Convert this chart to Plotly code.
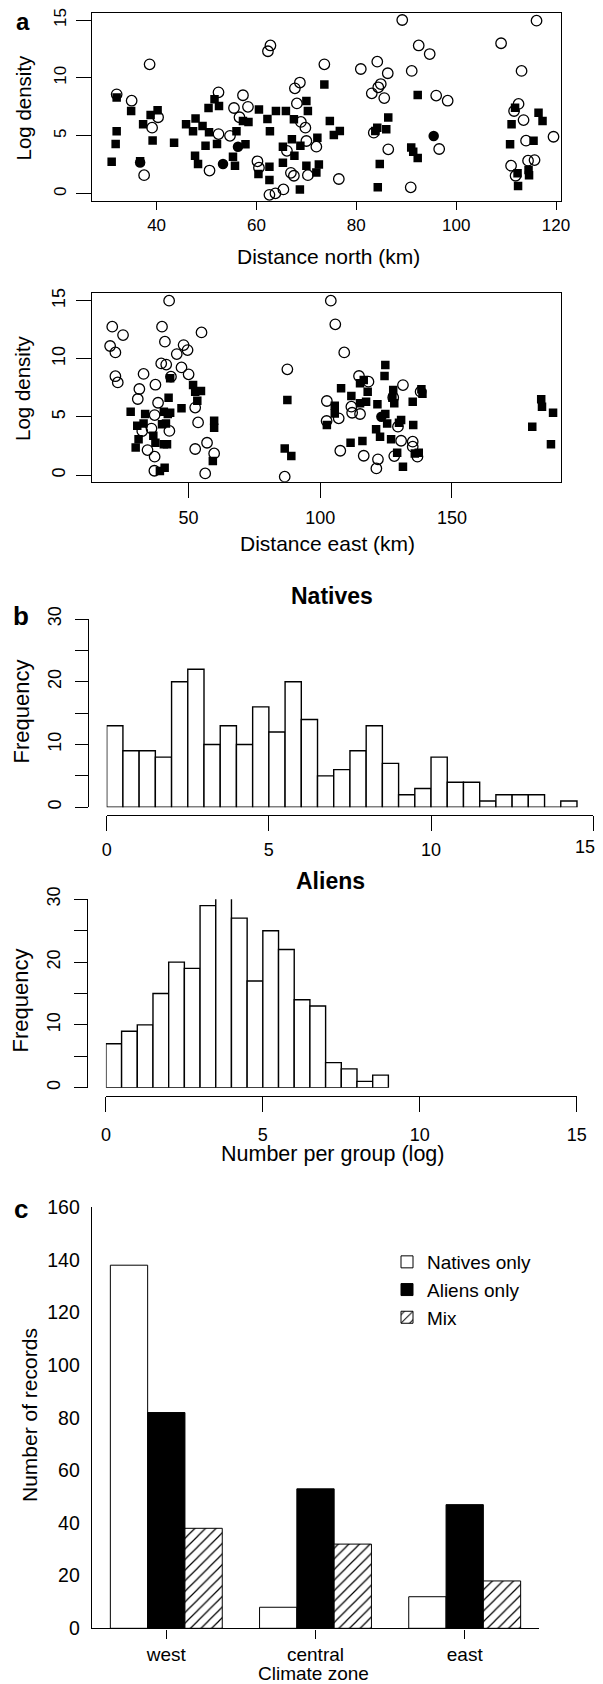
import plotly.graph_objects as go

PAGE_W, PAGE_H = 603, 1684
BODY = 8  # default page margin around the figure div
W, H = PAGE_W - BODY, PAGE_H - BODY
FONT = "Liberation Sans, Arial, Helvetica, sans-serif"

def px(p):
    return (p - BODY) / W

def py(p):
    return 1 - (p - BODY) / H

# ---------------- Panel a: log density vs distance north ----------------
north_native_x = [32.0, 35.0, 38.6, 39.1, 40.3, 37.5, 50.6, 52.4, 52.4, 54.7, 55.5, 56.6, 57.3, 58.3,
                  62.3, 62.8, 60.2, 60.5, 62.6, 63.8, 65.4, 66.1, 66.9, 67.5, 67.7, 68.7, 68.1, 68.9,
                  69.8, 70.0, 70.3, 72.0, 73.6, 76.5, 80.9, 83.1, 83.5, 84.2, 84.4, 84.9, 85.6, 86.3,
                  86.4, 89.2, 91.1, 90.9, 92.5, 94.7, 96.0, 96.6, 98.3, 109.0, 111.0, 111.6, 112.5,
                  113.5, 113.1, 114.0, 111.9, 114.4, 115.7, 116.1, 119.5]
north_native_y = [8.58, 8.03, 11.17, 5.7, 6.6, 1.6, 2.0, 8.75, 5.15, 5.0, 7.4, 6.6, 8.5, 7.5,
                  12.3, 12.8, 2.8, 2.25, -0.1, 0.03, 0.37, 3.7, 1.8, 1.55, 9.1, 9.6, 7.8, 6.2,
                  5.7, 4.55, 1.6, 4.06, 11.17, 1.27, 10.77, 8.67, 5.27, 11.4, 9.19, 9.47, 8.26, 10.4,
                  3.83, 15.0, 10.6, 0.55, 12.8, 12.06, 8.47, 3.86, 8.03, 12.99, 2.42, 7.14, 7.75,
                  6.36, 10.6, 4.58, 1.55, 2.85, 2.9, 14.94, 4.92]

north_alien_x = [31.0, 32.0, 32.0, 31.8, 34.9, 37.3, 36.7, 38.8, 40.2, 39.2, 43.5, 45.9, 47.8, 47.3,
                 49.2, 47.7, 48.3, 50.4, 50.5, 49.8, 51.6, 52.5, 52.1, 55.3, 55.7, 56.0, 57.8, 57.3,
                 58.4, 60.5, 60.4, 62.2, 62.7, 62.6, 62.6, 63.9, 65.9, 65.3, 65.3, 67.1, 67.5, 67.6,
                 68.8, 68.7, 70.0, 70.3, 70.0, 72.0, 72.2, 72.5, 73.6, 74.7, 75.5, 76.7, 84.2, 83.8,
                 86.0, 86.4, 84.7, 84.3, 92.3, 91.0, 91.4, 92.3, 110.8, 111.1, 111.8, 112.4, 112.3,
                 115.5, 116.5, 117.3, 114.5, 114.6]
north_alien_y = [2.76, 8.3, 5.4, 4.3, 7.14, 6.0, 2.8, 6.8, 7.2, 4.6, 4.4, 6.0, 6.5, 5.4,
                 5.85, 3.28, 2.56, 7.4, 5.3, 4.15, 8.15, 7.57, 4.29, 3.2, 2.42, 5.4, 4.26, 6.28,
                 6.2, 7.28, 1.7, 6.45, 5.4, 2.33, 1.18, 7.14, 7.14, 4.06, 2.68, 4.7, 6.42, 3.28,
                 4.15, 0.37, 8.0, 7.14, 2.42, 1.84, 4.84, 2.53, 9.44, 6.28, 5.07, 5.41, 5.7, 5.41,
                 5.56, 6.59, 2.56, 0.55, 8.52, 4.0, 3.63, 3.08, 4.26, 6.0, 7.43, 0.66, 1.76,
                 4.58, 7.0, 6.28, 2.04, 1.6]

north_mix_x = [36.7, 53.3, 56.3, 95.5]
north_mix_y = [2.7, 2.56, 4.06, 4.98]

# ---------------- Panel a: log density vs distance east ----------------
east_native_x = [21.0, 20.2, 22.2, 25.1, 22.2, 23.1, 42.6, 39.9, 41.0, 45.5, 48.1, 49.6, 39.6, 41.5,
                 47.3, 50.0, 32.9, 31.3, 30.7, 37.4, 38.4, 43.3, 54.9, 52.5, 53.6, 52.5, 57.0, 59.7,
                 56.3, 35.9, 34.4, 37.1, 37.0, 37.1, 42.7, 32.4, 87.5, 86.5, 104.0, 105.7, 109.1,
                 102.5, 102.4, 107.0, 111.8, 112.1, 115.1, 114.7, 118.3, 107.6, 116.5, 121.9, 121.3,
                 131.4, 127.7, 129.5, 130.7, 128.1, 135.1, 135.1, 136.9, 138.1]
east_native_y = [12.76, 11.1, 10.55, 12.04, 8.5, 7.97, 15.0, 12.76, 11.47, 10.4, 11.18, 10.75, 9.6, 9.5,
                 9.26, 8.66, 8.7, 7.4, 6.54, 7.77, 6.22, 8.46, 12.27, 5.8, 4.53, 2.24, 2.78, 1.86,
                 0.14, 4.0, 2.15, 1.58, 0.37, 5.16, 3.8, 3.78, 9.09, -0.14, 15.0, 12.96, 10.55,
                 6.37, 4.65, 4.88, 5.88, 5.36, 5.25, 8.52, 8.03, 2.09, 1.66, 1.35, 0.57,
                 7.74, 6.68, 4.16, 2.95, 1.63, 2.87, 2.44, 1.58, 7.17]

east_alien_x = [28.0, 33.5, 30.5, 32.9, 31.0, 29.9, 36.6, 37.4, 40.6, 41.8, 39.9, 40.6, 42.4, 43.0,
                42.1, 43.0, 41.4, 39.1, 40.9, 47.3, 51.7, 52.5, 54.7, 53.3, 59.7, 59.7, 59.2, 87.5,
                86.5, 89.0, 102.5, 105.5, 105.5, 107.9, 111.8, 111.5, 115.1, 115.1, 116.0, 117.4,
                118.0, 116.5, 124.7, 124.4, 121.7, 124.7, 125.4, 121.2, 122.7, 126.9, 127.4, 128.1,
                127.7, 129.9, 130.7, 129.2, 131.4, 135.3, 135.1, 135.9, 137.4, 138.4, 138.8, 180.5,
                183.9, 184.2, 188.4, 187.6]
east_alien_y = [5.45, 5.25, 4.24, 4.44, 3.07, 2.38, 3.38, 2.78, 2.64, 2.64, 4.36, 5.45, 6.65, 8.32,
                5.25, 5.36, 4.44, 0.34, 0.63, 5.74, 7.74, 7.17, 7.23, 6.4, 4.67, 4.07, 1.2, 6.45,
                2.29, 1.63, 4.3, 5.97, 5.3, 7.46, 6.8, 2.78, 7.89, 6.17, 2.92, 6.31,
                7.17, 8.17, 9.46, 8.52, 6.08, 5.25, 4.44, 3.93, 3.3, 3.07, 6.65, 6.17,
                7.31, 4.5, 4.73, 1.92, 0.72, 4.3, 6.31, 1.86, 1.92, 7.37, 7.0, 4.16,
                6.51, 5.88, 5.36, 2.64]

east_mix_x = [123.2]
east_mix_y = [5.02]

# ---------------- Panel b: histograms ----------------
natives_bin_left = [0.0, 0.5, 1.0, 1.5, 2.0, 2.5, 3.0, 3.5, 4.0, 4.5, 5.0, 5.5, 6.0, 6.5, 7.0,
                    7.5, 8.0, 8.5, 9.0, 9.5, 10.0, 10.5, 11.0, 11.5, 12.0, 12.5, 13.0, 13.5, 14.0]
natives_counts = [13, 9, 9, 8, 20, 22, 10, 13, 10, 16, 12, 20, 14, 5, 6,
                  9, 13, 7, 2, 3, 8, 4, 4, 1, 2, 2, 2, 0, 1]
aliens_bin_left = [0.0, 0.5, 1.0, 1.5, 2.0, 2.5, 3.0, 3.5, 4.0, 4.5, 5.0, 5.5, 6.0, 6.5,
                   7.0, 7.5, 8.0, 8.5]
aliens_counts = [7, 9, 10, 15, 20, 19, 29, 31, 27, 17, 25, 22, 14, 13, 4, 3, 1, 2]
bin_width = 0.5
hist_ticks = [0, 5, 10, 15]
natives_tick_text = ["0", "5", "10", ""]   # the last label (15) is placed as an annotation

# ---------------- Panel c: records per climate zone ----------------
zones = ["west", "central", "east"]
natives_only = [138, 8, 12]
aliens_only = [82, 53, 47]
mix_records = [38, 32, 18]

fig = go.Figure()

open_circle = dict(symbol="circle-open", size=10.5, color="black", line=dict(width=1.3, color="black"))
square = dict(symbol="square", size=8.5, color="black")
filled_circle = dict(symbol="circle", size=10.5, color="black")

fig.add_trace(go.Scatter(x=north_native_x, y=north_native_y, mode="markers", marker=open_circle,
                         xaxis="x", yaxis="y", showlegend=False))
fig.add_trace(go.Scatter(x=north_alien_x, y=north_alien_y, mode="markers", marker=square,
                         xaxis="x", yaxis="y", showlegend=False))
fig.add_trace(go.Scatter(x=north_mix_x, y=north_mix_y, mode="markers", marker=filled_circle,
                         xaxis="x", yaxis="y", showlegend=False))

fig.add_trace(go.Scatter(x=east_native_x, y=east_native_y, mode="markers", marker=open_circle,
                         xaxis="x2", yaxis="y2", showlegend=False))
fig.add_trace(go.Scatter(x=east_alien_x, y=east_alien_y, mode="markers", marker=square,
                         xaxis="x2", yaxis="y2", showlegend=False))
fig.add_trace(go.Scatter(x=east_mix_x, y=east_mix_y, mode="markers", marker=filled_circle,
                         xaxis="x2", yaxis="y2", showlegend=False))

hist_style = dict(color="white", line=dict(color="black", width=1.4))
fig.add_trace(go.Bar(x=natives_bin_left, y=natives_counts, width=bin_width, offset=0,
                     marker=hist_style, xaxis="x3", yaxis="y3", showlegend=False, cliponaxis=False))
fig.add_trace(go.Bar(x=aliens_bin_left, y=aliens_counts, width=bin_width, offset=0,
                     marker=hist_style, xaxis="x4", yaxis="y4", showlegend=False, cliponaxis=False))

fig.add_trace(go.Bar(x=zones, y=natives_only, name="Natives only", xaxis="x5", yaxis="y5",
                     marker=dict(color="white", line=dict(color="black", width=1))))
fig.add_trace(go.Bar(x=zones, y=aliens_only, name="Aliens only", xaxis="x5", yaxis="y5",
                     marker=dict(color="black", line=dict(color="black", width=1))))
fig.add_trace(go.Bar(x=zones, y=mix_records, name="Mix", xaxis="x5", yaxis="y5",
                     marker=dict(color="white", line=dict(color="black", width=1),
                                 pattern=dict(shape="/", fgcolor="black", bgcolor="white",
                                              size=7.5, solidity=0.16))))

def tf(size):
    return dict(family=FONT, size=size, color="black")

common = dict(showgrid=False, zeroline=False, linecolor="black", ticks="outside",
              tickcolor="black", showline=True, automargin=False, ticklabeloverflow="allow")

layout = dict(
    template="none",
    width=W, height=H, autosize=False,
    margin=dict(l=0, r=0, t=0, b=0, pad=0),
    paper_bgcolor="white", plot_bgcolor="white",
    font=dict(family=FONT, color="black"),
    barmode="group", bargap=0.25, bargroupgap=0,
    xaxis=dict(domain=[px(91.7), px(560.7)], range=[27.0, 120.94], anchor="y",
               tickvals=[40, 60, 80, 100, 120], ticklen=8, linewidth=1.2, mirror=True,
               tickfont=tf(17), ticklabelstandoff=0, **common),
    yaxis=dict(domain=[py(201), py(12.7)], range=[-0.63, 15.63], anchor="x",
               tickvals=[0, 5, 10, 15], ticklen=15, linewidth=1.2, mirror=True, tickangle=-90,
               tickfont=tf(17), ticklabelstandoff=3, **common),
    xaxis2=dict(domain=[px(91.7), px(560.7)], range=[13.2, 191.3], anchor="y2",
                tickvals=[50, 100, 150], ticklen=15, linewidth=1.2, mirror=True,
                tickfont=tf(18), ticklabelstandoff=5, **common),
    yaxis2=dict(domain=[py(481.7), py(293.3)], range=[-0.57, 15.63], anchor="x2",
                tickvals=[0, 5, 10, 15], ticklen=15, linewidth=1.2, mirror=True, tickangle=-90,
                tickfont=tf(18), ticklabelstandoff=3, **common),
    xaxis3=dict(domain=[px(106.7), px(593.2)], range=[0, 15], anchor="free", position=py(814.5),
                tickvals=hist_ticks, ticktext=natives_tick_text, ticklen=15, linewidth=1.4,
                tickfont=tf(18), ticklabelstandoff=4, **common),
    yaxis3=dict(domain=[py(807.3), py(619)], range=[0, 30], anchor="free", position=px(87.8),
                tickvals=[0, 5, 10, 15, 20, 25, 30], ticktext=["0", "", "10", "", "20", "", "30"],
                ticklen=13, linewidth=1.4, tickangle=-90,
                tickfont=tf(18), ticklabelstandoff=6, **common),
    xaxis4=dict(domain=[px(105.9), px(576.7)], range=[0, 15], anchor="free", position=py(1096),
                tickvals=hist_ticks, ticklen=15, linewidth=1.4,
                tickfont=tf(18), ticklabelstandoff=7, **common),
    yaxis4=dict(domain=[py(1087.7), py(899.3)], range=[0, 30], anchor="free", position=px(86.7),
                tickvals=[0, 5, 10, 15, 20, 25, 30], ticktext=["0", "", "10", "", "20", "", "30"],
                ticklen=13, linewidth=1.4, tickangle=-90,
                tickfont=tf(18), ticklabelstandoff=6, **common),
    xaxis5=dict(domain=[px(91.7), px(539.3)], range=[-0.5, 2.5], anchor="y5", type="category",
                ticklen=9, linewidth=1.4,
                tickfont=tf(19), ticklabelstandoff=0, **common),
    yaxis5=dict(domain=[py(1628.3), py(1207.3)], range=[0, 160], anchor="x5",
                tickvals=[0, 20, 40, 60, 80, 100, 120, 140, 160], linewidth=1,
                showgrid=False, zeroline=False, linecolor="black", showline=True, ticks="",
                automargin=False, ticklabeloverflow="allow",
                tickfont=tf(19.5), ticklabelstandoff=7),
    legend=dict(x=px(387), y=py(1243), xanchor="left", yanchor="top",
                font=tf(19), bgcolor="rgba(0,0,0,0)", borderwidth=0,
                tracegroupgap=0, itemwidth=30),
    showlegend=True,
)

def ann(text, x, y, size, angle=0, bold=False, xanchor="center"):
    return dict(text=text, x=px(x), y=py(y), xref="paper", yref="paper", showarrow=False,
                xanchor=xanchor, yanchor="middle", textangle=angle,
                font=dict(family=FONT, size=size, color="black", weight="bold" if bold else "normal"))

annotations = [
    ann("a", 22.9, 21.5, 24, bold=True),
    ann("b", 21, 616, 26, bold=True),
    ann("c", 20.6, 1208.7, 26, bold=True),
    ann("Log density", 22.5, 108, 20.5, angle=-90),
    ann("Distance north (km)", 328, 256.6, 21),
    ann("Log density", 22.5, 388.5, 20.5, angle=-90),
    ann("Distance east (km)", 327, 543.3, 21),
    ann("Natives", 332, 596.4, 23, bold=True),
    ann("Frequency", 20.5, 712, 22, angle=-90),
    ann("15", 597, 846.5, 18, xanchor="right"),
    ann("Aliens", 330, 880.7, 23, bold=True),
    ann("Frequency", 20.5, 1001, 22, angle=-90),
    ann("Number per group (log)", 333, 1154.4, 21.5),
    ann("Number of records", 29, 1415, 21, angle=-90),
    ann("Climate zone", 313.4, 1673, 19),
]
layout["annotations"] = annotations

fig.update_layout(**layout)
fig.write_html("out.html")
